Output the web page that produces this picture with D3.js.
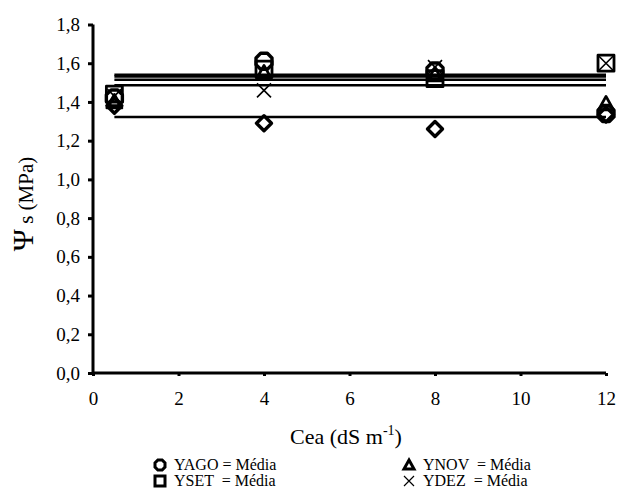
<!DOCTYPE html>
<html><head><meta charset="utf-8">
<script src="https://cdn.jsdelivr.net/npm/d3@7"></script>
</head><body style="margin:0">
<svg id="c" width="619" height="501"></svg>
<script>
const xValues = [0.5, 4, 8, 12];
const yAGO = [1.42, 1.61, 1.56, 1.34];
const ySET = [1.44, 1.57, 1.52, 1.60];
const yNOV = [1.40, 1.55, 1.54, 1.39];
const yDEZ = [1.43, 1.46, 1.58, 1.60];
const yDIA = [1.38, 1.29, 1.26, 1.335];
const meanLines = [1.540, 1.531, 1.514, 1.486, 1.322];
const xTicks = [0, 2, 4, 6, 8, 10, 12];
const yTicks = [0, 0.2, 0.4, 0.6, 0.8, 1.0, 1.2, 1.4, 1.6, 1.8];
const legendItems = [
  {label: "YAGO = Média", sym: "oct"},
  {label: "YSET  = Média", sym: "sq"},
  {label: "YNOV  = Média", sym: "tri"},
  {label: "YDEZ  = Média", sym: "x"}
];

const FF = 'Tinos, "Times New Roman", FreeSerif, "Liberation Serif", monospace';
const svg = d3.select("#c");
const x = d3.scaleLinear().domain([0, 12]).range([93, 606]);
const y = d3.scaleLinear().domain([0, 1.8]).range([373, 24.5]);

function symPath(type, s) {
  const h = s / 2;
  if (type === "oct") {
    const a = h * 0.42;
    return `M${-a},${-h}L${a},${-h}L${h},${-a}L${h},${a}L${a},${h}L${-a},${h}L${-h},${a}L${-h},${-a}Z`;
  }
  if (type === "sq") return `M${-h},${-h}H${h}V${h}H${-h}Z`;
  if (type === "tri") return `M0,${-h}L${h},${h*0.8}L${-h},${h*0.8}Z`;
  if (type === "dia") return `M0,${-h}L${h},0L0,${h}L${-h},0Z`;
  if (type === "x") return `M${-h},${-h}L${h},${h}M${h},${-h}L${-h},${h}`;
}

// mean lines
svg.append("g").selectAll("line").data(meanLines).join("line")
  .attr("x1", x(0.5)).attr("x2", x(12))
  .attr("y1", d => y(d)).attr("y2", d => y(d))
  .attr("stroke", "#000").attr("stroke-width", 2.5);

// axes
const yAxis = d3.axisLeft(y).tickValues(yTicks).tickSize(5).tickPadding(8)
  .tickFormat(d => d3.format(".1f")(d).replace(".", ","));
const gy = svg.append("g").attr("transform", `translate(${x(0)},0)`).call(yAxis);
gy.attr("font-family", null).attr("font-size", null);
gy.select(".domain").attr("stroke-width", 3).attr("d", `M0,${y(1.8)}V${y(0)}`);
gy.selectAll(".tick line").attr("stroke-width", 3);
gy.selectAll("text").style("font-family", FF).attr("font-size", 19).attr("fill", "#000");

const xAxis = d3.axisBottom(x).tickValues(xTicks).tickSize(3).tickPadding(16);
const gx = svg.append("g").attr("transform", `translate(0,${y(0)})`).call(xAxis);
gx.attr("font-family", null).attr("font-size", null);
gx.select(".domain").attr("stroke-width", 3).attr("d", `M${x(0)},0H${x(12)}`);
gx.selectAll(".tick line").attr("stroke-width", 3);
gx.selectAll("text").style("font-family", FF).attr("font-size", 19).attr("fill", "#000");

// series markers
const series = [
  {vals: yDIA, sym: "dia", size: 15, sw: 3.4},
  {vals: ySET, sym: "sq", size: 16, sw: 2.8},
  {vals: yNOV, sym: "tri", size: 15, sw: 2.8},
  {vals: yAGO, sym: "oct", size: 16, sw: 3.4},
  {vals: yDEZ, sym: "x", size: 14, sw: 1.6}
];
series.forEach(s => {
  svg.append("g").selectAll("path").data(s.vals).join("path")
    .attr("transform", (d, i) => `translate(${x(xValues[i])},${y(d)})`)
    .attr("d", symPath(s.sym, s.size))
    .attr("fill", "none").attr("stroke", "#000").attr("stroke-width", s.sw)
    .attr("stroke-linejoin", "round");
});

// axis titles
const xt = svg.append("text").attr("x", 346).attr("y", 444).attr("text-anchor", "middle")
  .style("font-family", FF).attr("font-size", 22);
xt.append("tspan").text("Cea (dS m");
xt.append("tspan").attr("dy", -9).attr("font-size", 14).text("-1");
xt.append("tspan").attr("dy", 9).text(")");

const yt = svg.append("text").attr("transform", "translate(33,204) rotate(-90)")
  .attr("text-anchor", "middle").style("font-family", FF).attr("font-size", 21);
yt.append("tspan").attr("font-size", 30).text("Ψ");
yt.append("tspan").text(" s (MPa)");

// legend
const legPos = [[160, 465], [160, 481], [409, 465], [409, 481]];
const lg = svg.append("g").selectAll("g").data(legendItems).join("g")
  .attr("transform", (d, i) => `translate(${legPos[i][0]},${legPos[i][1]})`);
lg.append("path").attr("d", d => symPath(d.sym, 10))
  .attr("fill", "none").attr("stroke", "#000")
  .attr("stroke-width", d => d.sym === "x" ? 1.2 : 3);
lg.append("text").attr("x", 14).attr("y", 5).attr("xml:space", "preserve")
  .style("font-family", FF).attr("font-size", 16)
  .text(d => d.label);
</script>
</body></html>
